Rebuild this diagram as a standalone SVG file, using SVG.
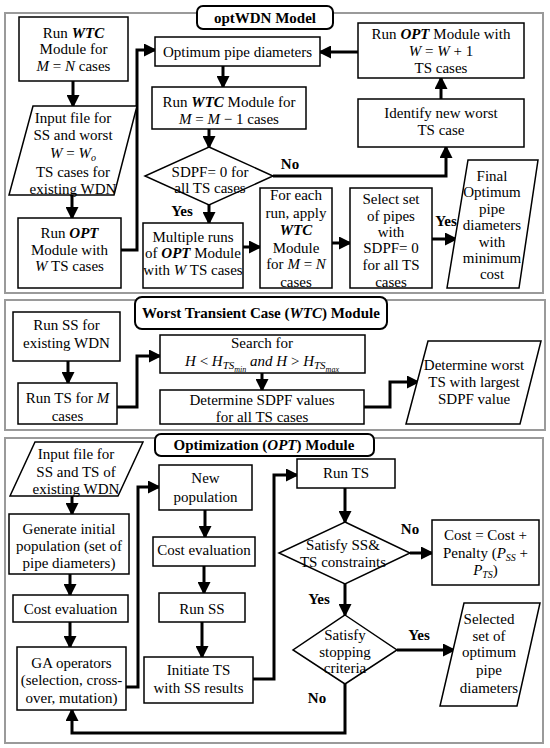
<svg xmlns="http://www.w3.org/2000/svg" width="550" height="748" viewBox="0 0 550 748">
<defs>
<style>
text{font-family:'Liberation Serif',serif;font-size:15px;text-anchor:middle;fill:#000}
.b{font-weight:bold}
.i{font-style:italic}
.bi{font-weight:bold;font-style:italic}
.frame{fill:#fff;stroke:#9a9a9a;stroke-width:2}
.title{fill:#fff;stroke:#000;stroke-width:2}
.box{fill:#fff;stroke:#000;stroke-width:1.5}
.conn{fill:none;stroke:#000;stroke-width:3;stroke-linejoin:miter;marker-end:url(#ah)}
</style>
<marker id="ah" markerUnits="userSpaceOnUse" markerWidth="13" markerHeight="13" refX="11" refY="6.5" orient="auto">
<path d="M0,0 L13,6.5 L0,13 z" fill="#000"/>
</marker>
</defs>
<rect width="550" height="748" fill="#fff"/>

<!-- Frames -->
<g id="frames">
<rect class="frame" x="5" y="13" width="538" height="280"/>
<rect class="frame" x="5" y="300" width="540" height="130"/>
<rect class="frame" x="5" y="438" width="538" height="305"/>
</g>

<!-- Connectors -->
<g id="connectors">
<path class="conn" d="M73,81 V106"/>
<path class="conn" d="M72,195 V218"/>
<path class="conn" d="M121,250 H137 V50 H155"/>
<path class="conn" d="M223,66 V87"/>
<path class="conn" d="M209,129 V147"/>
<path class="conn" d="M273,176 H446 V147"/>
<path class="conn" d="M441,99 V78"/>
<path class="conn" d="M358,52 H320"/>
<path class="conn" d="M209,205 V223"/>
<path class="conn" d="M243,247 H260"/>
<path class="conn" d="M332,243 H350"/>
<path class="conn" d="M432,239 H456"/>

<path class="conn" d="M68,361 V383"/>
<path class="conn" d="M117,407 H137 V356 H160"/>
<path class="conn" d="M262,373 V390"/>
<path class="conn" d="M364,407 H390 V382 H418"/>

<path class="conn" d="M72,496 V514"/>
<path class="conn" d="M70,574 V595"/>
<path class="conn" d="M70,622 V647"/>
<path class="conn" d="M126,687 H138 V487 H159"/>
<path class="conn" d="M205,510 V537"/>
<path class="conn" d="M204,566 V593"/>
<path class="conn" d="M202,622 V657"/>
<path class="conn" d="M253,679 H274 V475 H297"/>
<path class="conn" d="M345,488 V522"/>
<path class="conn" d="M410,553 H432"/>
<path class="conn" d="M345,584 V615"/>
<path class="conn" d="M397,650 H454"/>
<path class="conn" d="M345,684 V733 H72 V710"/>
</g>

<!-- Labels -->
<g id="labels">
<text class="b" x="290" y="169">No</text>
<text class="b" x="182" y="216">Yes</text>
<text class="b" x="446" y="226">Yes</text>
<text class="b" x="410" y="534">No</text>
<text class="b" x="319" y="604">Yes</text>
<text class="b" x="419" y="640">Yes</text>
<text class="b" x="317" y="703">No</text>
</g>

<!-- Panel 1 -->
<g id="title1">
<rect class="title" x="197" y="6" width="136" height="23" rx="6"/>
<text class="b" x="265" y="23">optWDN Model</text>
</g>
<g id="runWTC1">
<rect class="box" x="19" y="17" width="109" height="64"/>
<text x="73.5" y="38">Run <tspan class="bi">WTC</tspan></text>
<text x="73.5" y="54">Module for</text>
<text x="73.5" y="71"><tspan class="i">M</tspan> = <tspan class="i">N</tspan> cases</text>
</g>
<g id="inputFile1">
<polygon class="box" points="33,106 137,106 114,195 9,195"/>
<text x="73" y="123">Input file for</text>
<text x="73" y="140">SS and worst</text>
<text x="73" y="158"><tspan class="i">W</tspan> = <tspan class="i">W</tspan><tspan class="i" font-size="10" dy="3">o</tspan></text>
<text x="73" y="177">TS cases for</text>
<text x="73" y="194">existing WDN</text>
</g>
<g id="runOPT1">
<rect class="box" x="18" y="218" width="103" height="70"/>
<text x="69.5" y="238">Run <tspan class="bi">OPT</tspan></text>
<text x="69.5" y="255">Module with</text>
<text x="69.5" y="271"><tspan class="i">W</tspan> TS cases</text>
</g>
<g id="optimumPipe">
<rect class="box" x="155" y="37" width="165" height="29"/>
<text x="237.5" y="57">Optimum pipe diameters</text>
</g>
<g id="runWTC2">
<rect class="box" x="152" y="87" width="154" height="42"/>
<text x="229" y="107">Run <tspan class="bi">WTC</tspan> Module for</text>
<text x="229" y="124"><tspan class="i">M</tspan> = <tspan class="i">M</tspan> − 1 cases</text>
</g>
<g id="sdpfDecision">
<polygon class="box" points="209,147 273,176 209,205 145,176"/>
<text x="210" y="177">SDPF= 0 for</text>
<text x="210" y="193">all TS cases</text>
</g>
<g id="identifyWorst">
<rect class="box" x="358" y="99" width="166" height="48"/>
<text x="441" y="118">Identify new worst</text>
<text x="441" y="135">TS case</text>
</g>
<g id="runOPT2">
<rect class="box" x="358" y="23" width="166" height="55"/>
<text x="441" y="39">Run <tspan class="bi">OPT</tspan> Module with</text>
<text x="441" y="56"><tspan class="i">W</tspan> = <tspan class="i">W</tspan> + 1</text>
<text x="441" y="73">TS cases</text>
</g>
<g id="multipleRuns">
<rect class="box" x="143" y="223" width="100" height="65"/>
<text x="193" y="242">Multiple runs</text>
<text x="193" y="258">of <tspan class="bi">OPT</tspan> Module</text>
<text x="193" y="275">with <tspan class="i">W</tspan> TS cases</text>
</g>
<g id="forEachRun">
<rect class="box" x="260" y="188" width="72" height="100"/>
<text x="296" y="200">For each</text>
<text x="296" y="218">run, apply</text>
<text x="296" y="235" class="bi">WTC</text>
<text x="296" y="253">Module</text>
<text x="296" y="269">for <tspan class="i">M</tspan> = <tspan class="i">N</tspan></text>
<text x="296" y="287">cases</text>
</g>
<g id="selectSet">
<rect class="box" x="350" y="188" width="82" height="100"/>
<text x="391" y="204">Select set</text>
<text x="391" y="221">of pipes</text>
<text x="391" y="237">with</text>
<text x="391" y="253">SDPF= 0</text>
<text x="391" y="270">for all TS</text>
<text x="391" y="287">cases</text>
</g>
<g id="finalOptimum">
<polygon class="box" points="468,160 538,160 519,288 447,288"/>
<text x="492" y="181">Final</text>
<text x="492" y="197">Optimum</text>
<text x="492" y="214">pipe</text>
<text x="492" y="230">diameters</text>
<text x="492" y="247">with</text>
<text x="492" y="263">minimum</text>
<text x="492" y="279">cost</text>
</g>

<!-- Panel 2 -->
<g id="title2">
<rect class="title" x="135" y="297" width="252" height="32" rx="7"/>
<text class="b" x="261" y="318">Worst Transient Case (<tspan class="bi">WTC</tspan>) Module</text>
</g>
<g id="runSS">
<rect class="box" x="13" y="312" width="107" height="49"/>
<text x="66.5" y="330">Run SS for</text>
<text x="66.5" y="348">existing WDN</text>
</g>
<g id="runTSM">
<rect class="box" x="18" y="383" width="99" height="41"/>
<text x="67.5" y="403">Run TS for <tspan class="i">M</tspan></text>
<text x="67.5" y="421">cases</text>
</g>
<g id="searchFor">
<rect class="box" x="160" y="335" width="205" height="38"/>
<text x="262" y="348">Search for</text>
<text x="262" y="366"><tspan class="i">H</tspan> &lt; <tspan class="i">H</tspan><tspan class="i" font-size="11" dy="3">TS</tspan><tspan class="i" font-size="8" dy="3">min</tspan><tspan dy="-6"> </tspan><tspan class="i">and H</tspan> &gt; <tspan class="i">H</tspan><tspan class="i" font-size="11" dy="3">TS</tspan><tspan class="i" font-size="8" dy="3">max</tspan></text>
</g>
<g id="determineSDPF">
<rect class="box" x="160" y="390" width="204" height="34"/>
<text x="262" y="405">Determine SDPF values</text>
<text x="262" y="422">for all TS cases</text>
</g>
<g id="determineWorst">
<polygon class="box" points="428,341 541,341 520,424 406,424"/>
<text x="474" y="370">Determine worst</text>
<text x="474" y="387">TS with largest</text>
<text x="474" y="404">SDPF value</text>
</g>

<!-- Panel 3 -->
<g id="title3">
<rect class="title" x="155" y="434" width="219" height="22" rx="6"/>
<text class="b" x="264" y="450">Optimization (<tspan class="bi">OPT</tspan>) Module</text>
</g>
<g id="inputFile2">
<polygon class="box" points="35,442 143,442 118,496 10,496"/>
<text x="76" y="459">Input file for</text>
<text x="76" y="477">SS and TS of</text>
<text x="76" y="494">existing WDN</text>
</g>
<g id="generatePop">
<rect class="box" x="9" y="514" width="120" height="60"/>
<text x="69" y="534">Generate initial</text>
<text x="69" y="551">population (set of</text>
<text x="69" y="568">pipe diameters)</text>
</g>
<g id="costEval1">
<rect class="box" x="13" y="595" width="115" height="27"/>
<text x="70.5" y="614">Cost evaluation</text>
</g>
<g id="gaOperators">
<rect class="box" x="17" y="647" width="109" height="63"/>
<text x="71.5" y="668">GA operators</text>
<text x="71.5" y="685">(selection, cross-</text>
<text x="71.5" y="703">over, mutation)</text>
</g>
<g id="newPopulation">
<rect class="box" x="159" y="465" width="93" height="45"/>
<text x="205.5" y="483">New</text>
<text x="205.5" y="502">population</text>
</g>
<g id="costEval2">
<rect class="box" x="153" y="537" width="102" height="29"/>
<text x="204" y="555">Cost evaluation</text>
</g>
<g id="runSS2">
<rect class="box" x="159" y="593" width="86" height="29"/>
<text x="202" y="614">Run SS</text>
</g>
<g id="initiateTS">
<rect class="box" x="144" y="657" width="109" height="46"/>
<text x="198.5" y="675">Initiate TS</text>
<text x="198.5" y="693">with SS results</text>
</g>
<g id="runTS">
<rect class="box" x="297" y="459" width="98" height="29"/>
<text x="346" y="478">Run TS</text>
</g>
<g id="satisfyConstraints">
<polygon class="box" points="345,522 410,553 345,584 279,553"/>
<text x="343" y="550">Satisfy SS&amp;</text>
<text x="343" y="567">TS constraints</text>
</g>
<g id="costPenalty">
<rect class="box" x="432" y="520" width="107" height="65"/>
<text x="485.5" y="540">Cost = Cost +</text>
<text x="485.5" y="558">Penalty (<tspan class="i">P</tspan><tspan class="i" font-size="10" dy="3">SS</tspan><tspan dy="-3"> +</tspan></text>
<text x="485.5" y="575"><tspan class="i">P</tspan><tspan class="i" font-size="10" dy="3">TS</tspan><tspan dy="-3">)</tspan></text>
</g>
<g id="stoppingCriteria">
<polygon class="box" points="345,615 397,650 345,684 293,650"/>
<text x="345" y="640">Satisfy</text>
<text x="345" y="657">stopping</text>
<text x="345" y="673">criteria</text>
</g>
<g id="selectedSet">
<polygon class="box" points="464,603 540,603 517,706 440,706"/>
<text x="489" y="624">Selected</text>
<text x="489" y="641">set of</text>
<text x="489" y="657">optimum</text>
<text x="489" y="675">pipe</text>
<text x="489" y="693">diameters</text>
</g>
</svg>
